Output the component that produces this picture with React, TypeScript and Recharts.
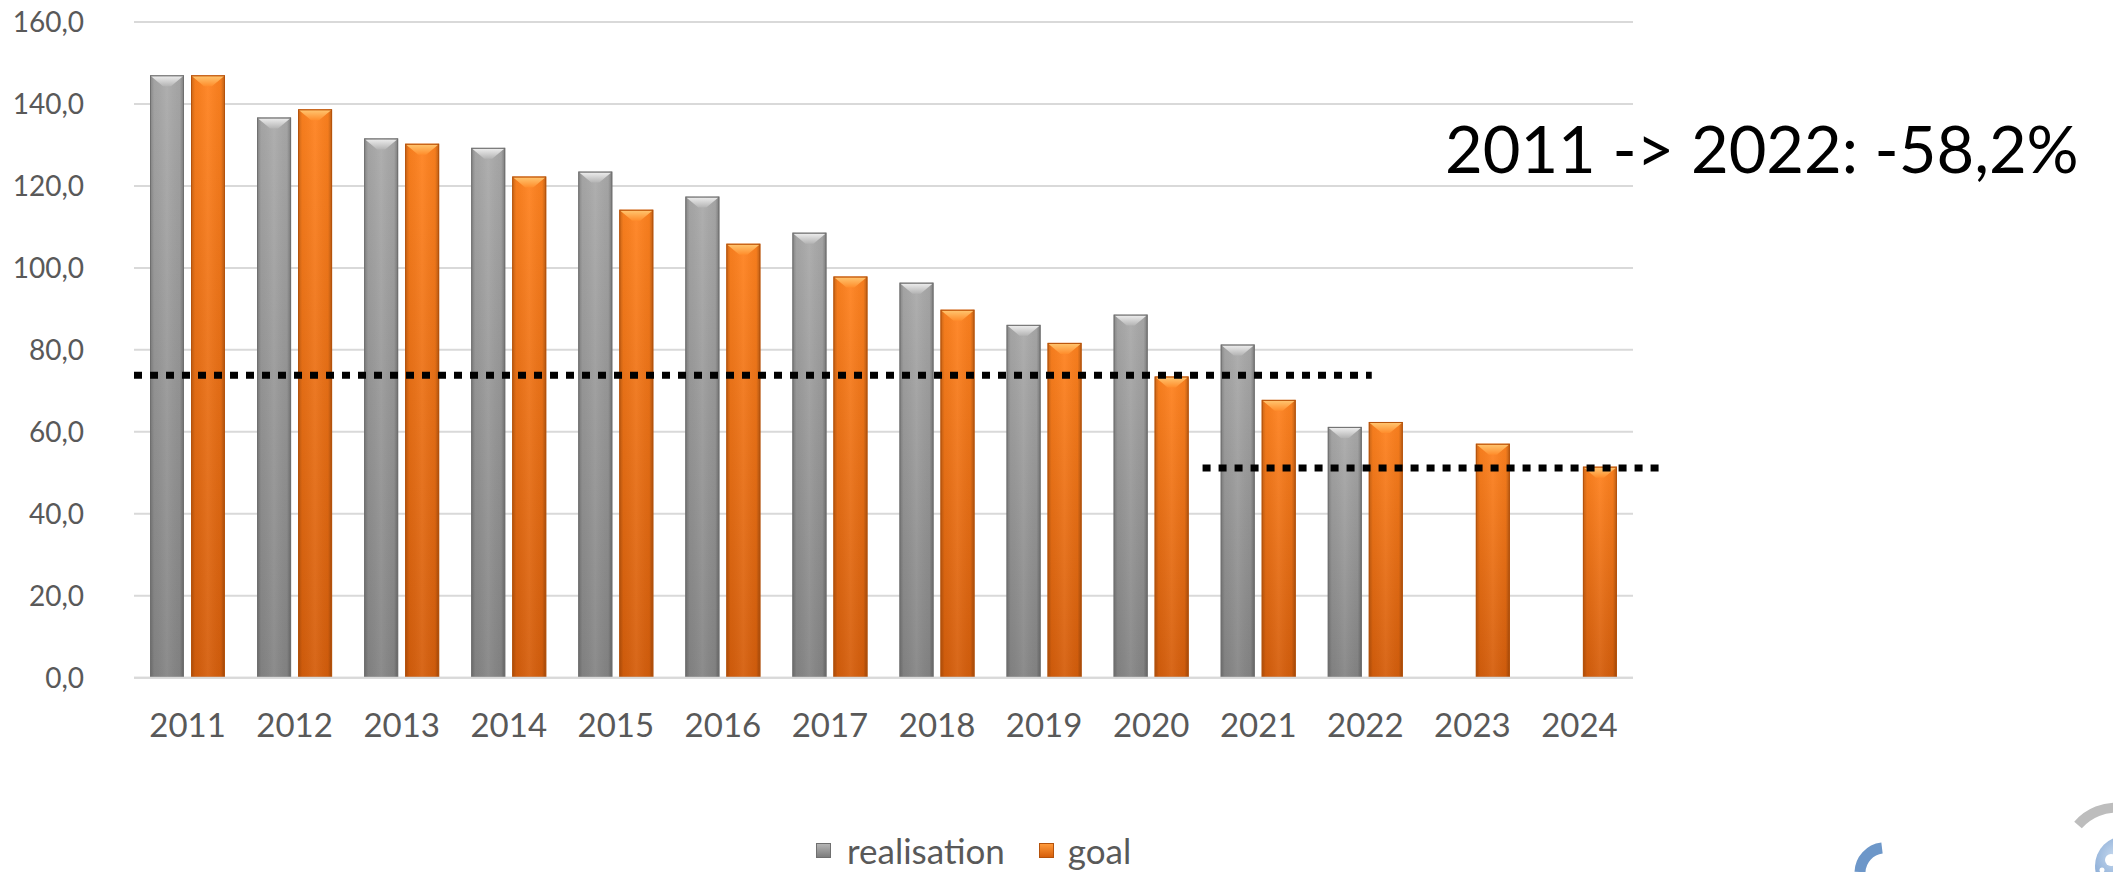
import React from 'react';
import {
  ComposedChart,
  Bar,
  XAxis,
  YAxis,
  CartesianGrid,
  ReferenceLine,
  Legend,
} from 'recharts';

const years = ['2011', '2012', '2013', '2014', '2015', '2016', '2017', '2018', '2019', '2020', '2021', '2022', '2023', '2024'];
const realisation: (number | null)[] = [147.0, 136.7, 131.6, 129.3, 123.5, 117.4, 108.6, 96.4, 86.1, 88.6, 81.3, 61.2, null, null];
const goal: number[] = [147.0, 138.7, 130.3, 122.3, 114.2, 105.9, 97.9, 89.8, 81.7, 73.5, 67.8, 62.4, 57.1, 51.5];
const yTicks = [0, 20, 40, 60, 80, 100, 120, 140, 160];

// dotted target lines: level, and span measured in category bands from the plot's left edge
const targetLevelA = 73.8;
const targetSpanA: [number, number] = [0, 11.56];
const targetLevelB = 51.2;
const targetSpanB: [number, number] = [9.98, 14.24];

const annotation = '2011 -> 2022: -58,2%';

const data = years.map((y, i) => ({ year: y, realisation: realisation[i], goal: goal[i] }));

// hidden numeric axis spans [0, n-1] across the plot width; convert band units to it
const POS_MAX = years.length - 1;
const toPos = (b: number) => (b * POS_MAX) / years.length;

const FONT = 'Lato, "Open Sans", sans-serif';
const TEXT_GRAY = '#595959';

const makeShape = (kind: 'gray' | 'orange') => (props: any) => {
  const { x, y, width, height } = props;
  if (height == null || height <= 0 || width <= 0) return null;
  const bodyId = kind === 'gray' ? 'url(#grayBody)' : 'url(#orangeBody)';
  const bevelId = kind === 'gray' ? 'url(#grayBevel)' : 'url(#orangeBevel)';
  const stroke = kind === 'gray' ? '#6f6f6f' : '#b5520b';
  const bh = Math.min(11, height);
  return (
    <g>
      <rect x={x} y={y} width={width} height={height} fill={bodyId} />
      <rect x={x} y={y} width={width} height={height} fill="url(#edgeShade)" />
      <polygon
        points={`${x + 1},${y + 1} ${x + width - 1},${y + 1} ${x + width / 2 + 4},${y + bh} ${x + width / 2 - 4},${y + bh}`}
        fill={bevelId}
      />
      <rect x={x + 0.5} y={y + 0.5} width={width - 1} height={height - 1} fill="none" stroke={stroke} strokeWidth={1} />
    </g>
  );
};

const grayShape = makeShape('gray');
const orangeShape = makeShape('orange');

const LegendContent = () => (
  <div style={{ display: 'flex', alignItems: 'center', height: 40, fontFamily: FONT, fontSize: 35, color: TEXT_GRAY, whiteSpace: 'nowrap', lineHeight: '40px' }}>
    <span style={{ width: 15, height: 15, background: 'linear-gradient(#b5b5b5, #7d7d7d)', border: '1px solid #6f6f6f', boxSizing: 'border-box', marginRight: 16, display: 'inline-block' }} />
    <span style={{ marginRight: 34 }}>realisation</span>
    <span style={{ width: 15, height: 15, background: 'linear-gradient(#ff9a3a, #d65f0c)', border: '1px solid #b5520b', boxSizing: 'border-box', marginRight: 14, display: 'inline-block' }} />
    <span>goal</span>
  </div>
);

const fmt = (v: number) => v.toFixed(1).replace('.', ',');

export default function App() {
  return (
    <div style={{ position: 'relative', width: 2105, height: 872, marginTop: -8, background: '#fff' }}>
      <ComposedChart
        width={2105}
        height={872}
        data={data}
        margin={{ top: 22, right: 480, bottom: 134.3, left: 0 }}
        barSize={34}
        barGap={7}
      >
        <defs>
          <linearGradient id="grayBody" x1="0" y1="0" x2="0" y2="1">
            <stop offset="0%" stopColor="#aaaaaa" />
            <stop offset="100%" stopColor="#858585" />
          </linearGradient>
          <linearGradient id="orangeBody" x1="0" y1="0" x2="0" y2="1">
            <stop offset="0%" stopColor="#ff821f" />
            <stop offset="100%" stopColor="#d55e0c" />
          </linearGradient>
          <linearGradient id="edgeShade" x1="0" y1="0" x2="1" y2="0">
            <stop offset="0%" stopColor="#000" stopOpacity={0.22} />
            <stop offset="12%" stopColor="#000" stopOpacity={0.04} />
            <stop offset="50%" stopColor="#fff" stopOpacity={0.06} />
            <stop offset="88%" stopColor="#000" stopOpacity={0.04} />
            <stop offset="100%" stopColor="#000" stopOpacity={0.28} />
          </linearGradient>
          <linearGradient id="grayBevel" x1="0" y1="0" x2="0" y2="1">
            <stop offset="0%" stopColor="#ececec" />
            <stop offset="100%" stopColor="#b4b4b4" />
          </linearGradient>
          <linearGradient id="orangeBevel" x1="0" y1="0" x2="0" y2="1">
            <stop offset="0%" stopColor="#ffc46e" />
            <stop offset="100%" stopColor="#ff8d2c" />
          </linearGradient>
        </defs>
        <CartesianGrid vertical={false} stroke="#d9d9d9" strokeWidth={2} />
        <XAxis
          dataKey="year"
          height={60}
          tickLine={false}
          axisLine={{ stroke: '#d9d9d9', strokeWidth: 2 }}
          tickMargin={30}
          tick={{ fill: TEXT_GRAY, fontSize: 33, fontFamily: FONT }}
          interval={0}
        />
        <XAxis xAxisId="pos" type="number" domain={[0, POS_MAX]} hide allowDataOverflow />
        <YAxis
          width={126}
          domain={[0, 160]}
          ticks={yTicks}
          tickFormatter={fmt}
          tickLine={false}
          axisLine={false}
          tickMargin={44}
          tick={{ fill: TEXT_GRAY, fontSize: 28, fontFamily: FONT }}
          interval={0}
        />
        <Bar dataKey="realisation" name="realisation" fill="#9a9a9a" shape={grayShape} isAnimationActive={false} />
        <Bar dataKey="goal" name="goal" fill="#f57a1a" shape={orangeShape} isAnimationActive={false} />
        <ReferenceLine
          xAxisId="pos"
          segment={[{ x: toPos(targetSpanA[0]), y: targetLevelA }, { x: toPos(targetSpanA[1]), y: targetLevelA }]}
          stroke="#000"
          strokeWidth={7}
          strokeDasharray="8 8"
          ifOverflow="visible"
        />
        <ReferenceLine
          xAxisId="pos"
          segment={[{ x: toPos(targetSpanB[0]), y: targetLevelB }, { x: toPos(targetSpanB[1]), y: targetLevelB }]}
          stroke="#000"
          strokeWidth={7}
          strokeDasharray="8 8"
          ifOverflow="visible"
        />
        <Legend
          verticalAlign="middle"
          content={<LegendContent />}
          wrapperStyle={{ top: 830, left: 808, width: 'auto', height: 40 }}
        />
      </ComposedChart>
      <svg width={2113} height={872} style={{ position: 'absolute', left: 0, top: 0, pointerEvents: 'none', overflow: 'visible' }}>
        <text x={1437} y={173} fontFamily={FONT} fontSize={65} fill="#000">
          {annotation}
        </text>
        <defs>
          <radialGradient id="logoBlue" cx="0.35" cy="0.35" r="0.8">
            <stop offset="0%" stopColor="#c9dbef" />
            <stop offset="100%" stopColor="#5a88c4" />
          </radialGradient>
        </defs>
        <path d="M 1852 872 A 25 25 0 0 1 1874 848" fill="none" stroke="#6d97c9" strokeWidth={11} />
        <path d="M 2070 825 A 50 50 0 0 1 2113 808" fill="none" stroke="#bdbdbd" strokeWidth={10} />
        <circle cx={2117} cy={866} r={30} fill="url(#logoBlue)" />
        <circle cx={2103} cy={860} r={6} fill="#fff" />
        <circle cx={2094} cy={870} r={2.5} fill="#fff" />
      </svg>
    </div>
  );
}
